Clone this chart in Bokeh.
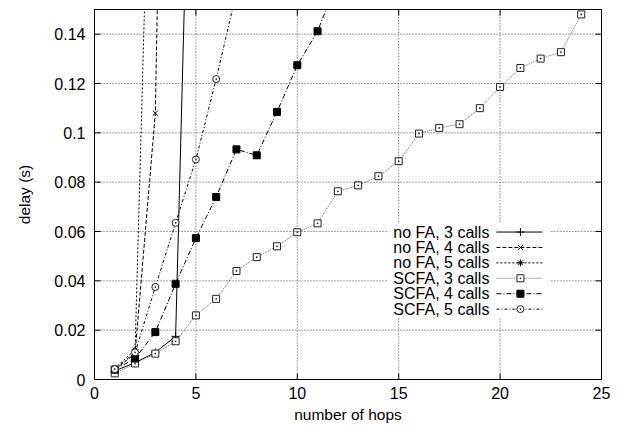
from bokeh.plotting import figure
from bokeh.models import Range1d, FixedTicker
from bokeh.embed import file_html
from bokeh.resources import INLINE
from bokeh.core.properties import value

# ---------------- data ----------------
hops_nofa3 = [1, 2, 3, 4, 5]
delay_nofa3 = [0.0035, 0.0068, 0.011, 0.0175, 0.33]

hops_nofa4 = [1, 2, 3, 4]
delay_nofa4 = [0.004, 0.0105, 0.108, 0.55]

hops_nofa5 = [1, 2, 3]
delay_nofa5 = [0.0045, 0.012, 0.31]

hops_scfa3 = list(range(1, 25))
delay_scfa3 = [0.0025, 0.0065, 0.0105, 0.0155, 0.026, 0.0327, 0.044, 0.0496,
               0.054, 0.0597, 0.0633, 0.0763, 0.0787, 0.0824, 0.0885, 0.0997,
               0.102, 0.1035, 0.110, 0.1186, 0.1263, 0.1301, 0.1327, 0.148]

hops_scfa4 = list(range(1, 13))
delay_scfa4 = [0.004, 0.0085, 0.0192, 0.0388, 0.0573, 0.074, 0.0933, 0.0909,
               0.1085, 0.1274, 0.1412, 0.162]

hops_scfa5 = list(range(1, 8))
delay_scfa5 = [0.0042, 0.011, 0.0375, 0.0635, 0.0892, 0.1218, 0.157]

series_names = ["no FA, 3 calls", "no FA, 4 calls", "no FA, 5 calls",
                "SCFA, 3 calls", "SCFA, 4 calls", "SCFA, 5 calls"]

x_ticks = [0.0, 5.0, 10.0, 15.0, 20.0, 25.0]
x_tick_labels = ["0", "5", "10", "15", "20", "25"]
y_ticks = [0.0, 0.02, 0.04, 0.06, 0.08, 0.1, 0.12, 0.14]
y_tick_labels = ["0", "0.02", "0.04", "0.06", "0.08", "0.1", "0.12", "0.14"]

x_title = "number of hops"
y_title = "delay (s)"

X_MIN, X_MAX = 0.0, 25.0
Y_MIN, Y_MAX = 0.0, 0.15

FONT = "Liberation Sans"

# frame placement in the 630x428 page
F_LEFT, F_RIGHT, F_TOP, F_BOTTOM = 94, 601, 9, 379
W, H = 630, 428

# ---------------- figure ----------------
p = figure(width=W, height=H, output_backend="svg", toolbar_location=None,
           x_range=Range1d(X_MIN, X_MAX), y_range=Range1d(Y_MIN, Y_MAX),
           min_border_left=F_LEFT, min_border_right=W - F_RIGHT,
           min_border_top=F_TOP, min_border_bottom=H - F_BOTTOM,
           background_fill_color="white", border_fill_color="white")
p.outline_line_color = "black"
p.outline_line_width = 1

for ax, ticks, labels in ((p.xaxis[0], x_ticks, x_tick_labels),
                          (p.yaxis[0], y_ticks, y_tick_labels)):
    ax.ticker = FixedTicker(ticks=ticks)
    ax.major_label_overrides = {t: l for t, l in zip(ticks, labels)}
    ax.major_tick_in = 0
    ax.major_tick_out = 0
    ax.minor_tick_line_color = None
    ax.axis_line_color = "black"
    ax.major_label_text_font = FONT
    ax.major_label_text_font_size = "16px"
    ax.major_label_text_color = "black"
    ax.axis_label_text_font = FONT
    ax.axis_label_text_font_size = "15.5px"
    ax.axis_label_text_font_style = "normal"
    ax.axis_label_text_color = "black"

p.xaxis.axis_label = x_title
p.yaxis.axis_label = y_title
p.xaxis.major_label_standoff = 7
p.xaxis.axis_label_standoff = 4
p.yaxis.major_label_standoff = 9
p.yaxis.axis_label_standoff = 18

p.xgrid.grid_line_color = None
p.ygrid.grid_line_color = None


# helpers to place layout items in plot space (layout, not data)
def kx(px):
    return X_MIN + (px - 94.5) / (F_RIGHT - 94.5) * (X_MAX - X_MIN)


def ky(py):
    return Y_MIN + (F_BOTTOM - py) / (F_BOTTOM - 9.4) * (Y_MAX - Y_MIN)


# ---------------- series ----------------
styles = [
    dict(x=hops_nofa3, y=delay_nofa3, dash="solid", lc="black", marker="cross",
         size=8, fill=None, mc="black"),
    dict(x=hops_nofa4, y=delay_nofa4, dash="4 2", lc="black", marker="x",
         size=7, fill=None, mc="black"),
    dict(x=hops_nofa5, y=delay_nofa5, dash="2 2", lc="black", marker="asterisk",
         size=7, fill=None, mc="black"),
    dict(x=hops_scfa3, y=delay_scfa3, dash="1 1", lc="#666666", marker="square_dot",
         size=7, fill="white", mc="#222222"),
    dict(x=hops_scfa4, y=delay_scfa4, dash="5 2 1 2", lc="black", marker="square",
         size=7, fill="black", mc="black"),
    dict(x=hops_scfa5, y=delay_scfa5, dash="3 2 1 2", lc="black", marker="circle_dot",
         size=7, fill="white", mc="#222222"),
]

for s in styles:
    p.line(s["x"], s["y"], line_color=s["lc"], line_dash=s["dash"], line_width=1)
for s in styles:
    p.scatter(s["x"], s["y"], marker=s["marker"], size=s["size"],
              line_color=s["mc"], fill_color=s["fill"], line_width=1)

# ---------------- grid and tick marks (drawn after the series) ----------------
KEY_L, KEY_R, KEY_T, KEY_B = kx(388), kx(551), ky(222), ky(316)
GRID = dict(line_color="#444444", line_dash="1 2", line_width=1)

for t in x_ticks:
    if not (X_MIN < t < X_MAX):
        continue
    if KEY_L < t < KEY_R:
        p.line([t, t], [Y_MIN, KEY_B], **GRID)
        p.line([t, t], [KEY_T, Y_MAX], **GRID)
    else:
        p.line([t, t], [Y_MIN, Y_MAX], **GRID)
for t in y_ticks:
    if not (Y_MIN < t < Y_MAX):
        continue
    if KEY_B < t < KEY_T:
        p.line([X_MIN, KEY_L], [t, t], **GRID)
        p.line([KEY_R, X_MAX], [t, t], **GRID)
    else:
        p.line([X_MIN, X_MAX], [t, t], **GRID)

TDX = kx(94.5 + 6) - kx(94.5)
TDY = ky(F_BOTTOM - 6) - ky(F_BOTTOM)
TICK = dict(line_color="black", line_width=1)
for t in x_ticks:
    p.line([t, t], [Y_MIN, Y_MIN + TDY], **TICK)
    p.line([t, t], [Y_MAX - TDY, Y_MAX], **TICK)
for t in y_ticks:
    p.line([X_MIN, X_MIN + TDX], [t, t], **TICK)
    p.line([X_MAX - TDX, X_MAX], [t, t], **TICK)

# ---------------- key (label left, sample right, as in the reference) ----------------
row0 = 231.7
row_step = 15.4
for i, (name, s) in enumerate(zip(series_names, styles)):
    yy = ky(row0 + i * row_step)
    p.text(x=[kx(489)], y=[yy], text=[name], text_align="right",
           text_baseline="middle", text_font=value(FONT),
           text_font_size=value("16px"), text_color="black")
    p.line(x=[kx(496), kx(542)], y=[yy, yy], line_color=s["lc"],
           line_dash=s["dash"], line_width=1)
    p.scatter(x=[kx(520)], y=[yy], marker=s["marker"], size=s["size"],
              line_color=s["mc"], fill_color=s["fill"], line_width=1)

open("out.html", "w").write(file_html(p, INLINE))
